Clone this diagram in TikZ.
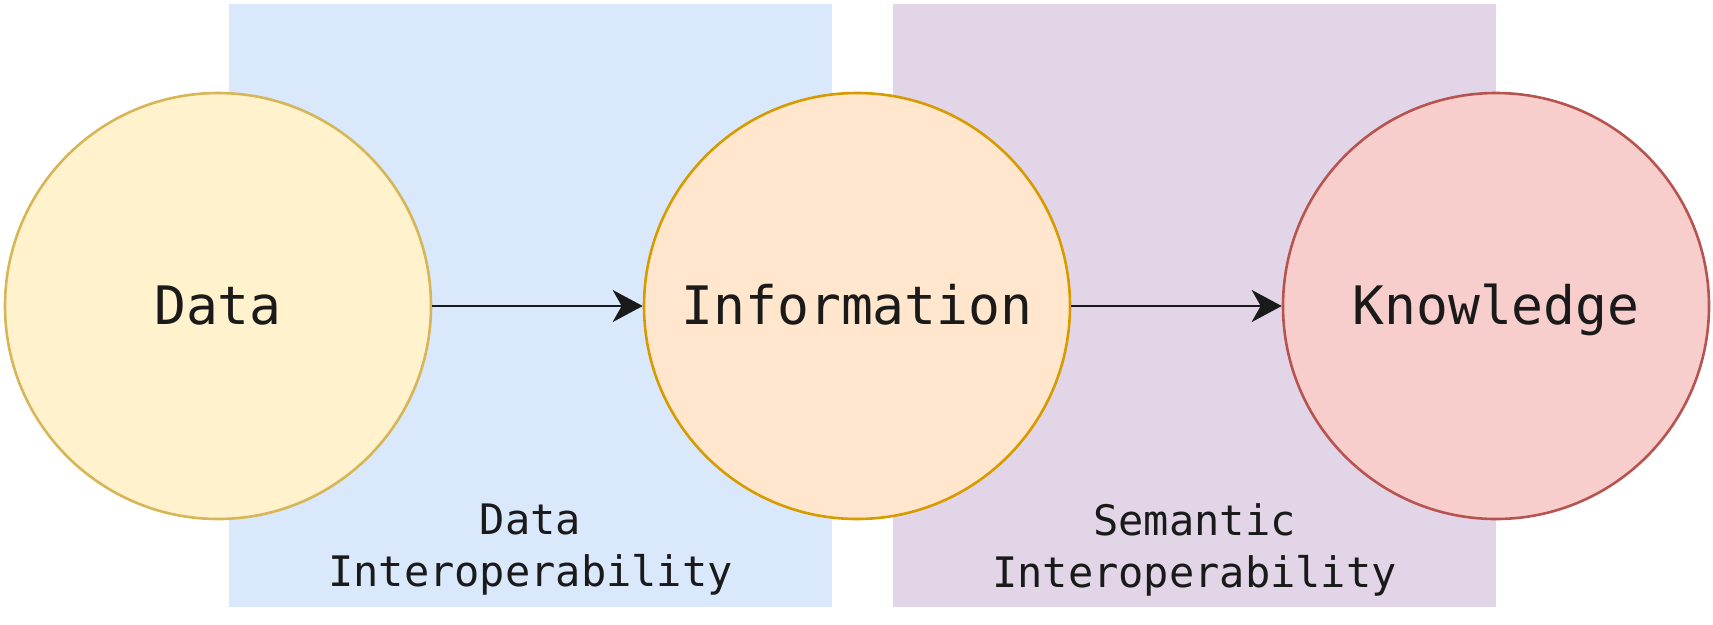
\documentclass[tikz,border=0pt]{standalone}
\usepackage{fontspec}
\setmonofont{DejaVu Sans Mono}
\usetikzlibrary{arrows.meta}
\definecolor{blueband}{HTML}{DAE8FC}
\definecolor{purpleband}{HTML}{E1D5E7}
\definecolor{yfill}{HTML}{FFF2CC}
\definecolor{ydraw}{HTML}{D6B656}
\definecolor{ofill}{HTML}{FFE6CC}
\definecolor{odraw}{HTML}{D79B00}
\definecolor{rfill}{HTML}{F8CECC}
\definecolor{rdraw}{HTML}{B85450}
\definecolor{ink}{HTML}{1A1A1A}
\tikzset{
  band/.style={inner sep=0pt, minimum width=603pt, minimum height=603pt, draw=none},
  stage/.style={circle, inner sep=0pt, minimum size=426pt, line width=2.6pt},
  stagetext/.style={text=ink, font=\ttfamily\fontsize{53}{62}\selectfont, anchor=base, inner sep=0pt},
  bandtext/.style={text=ink, font=\ttfamily\fontsize{42}{52}\selectfont, align=center, inner sep=0pt},
  flow/.style={draw=ink, line width=2.8pt, -{Stealth[length=30pt,width=32pt,inset=9pt]}}
}
\begin{document}
\begin{tikzpicture}[x=1pt,y=-1pt]
\useasboundingbox (0,0) rectangle (1713,624);
\node[band, fill=blueband] (b1) at (530.5,305.5) {};
\node[band, fill=purpleband] (b2) at (1194.5,305.5) {};
\node[stage, fill=yfill, draw=ydraw] (data) at (218,306) {};
\node[stage, fill=ofill, draw=odraw] (info) at (857,306) {};
\node[stage, fill=rfill, draw=rdraw] (know) at (1496,306) {};
\node[stagetext] (tdata) at (218,324) {Data};
\node[stagetext] (tinfo) at (857,324) {Information};
\node[stagetext] (tknow) at (1496,324) {Knowledge};
\node[bandtext] (l1) at (530.5,550) {Data\\Interoperability};
\node[bandtext] (l2) at (1194.5,550) {Semantic\\Interoperability};
\draw[flow] (data.east) -- (info.west);
\draw[flow] (info.east) -- (know.west);
\end{tikzpicture}
\end{document}
